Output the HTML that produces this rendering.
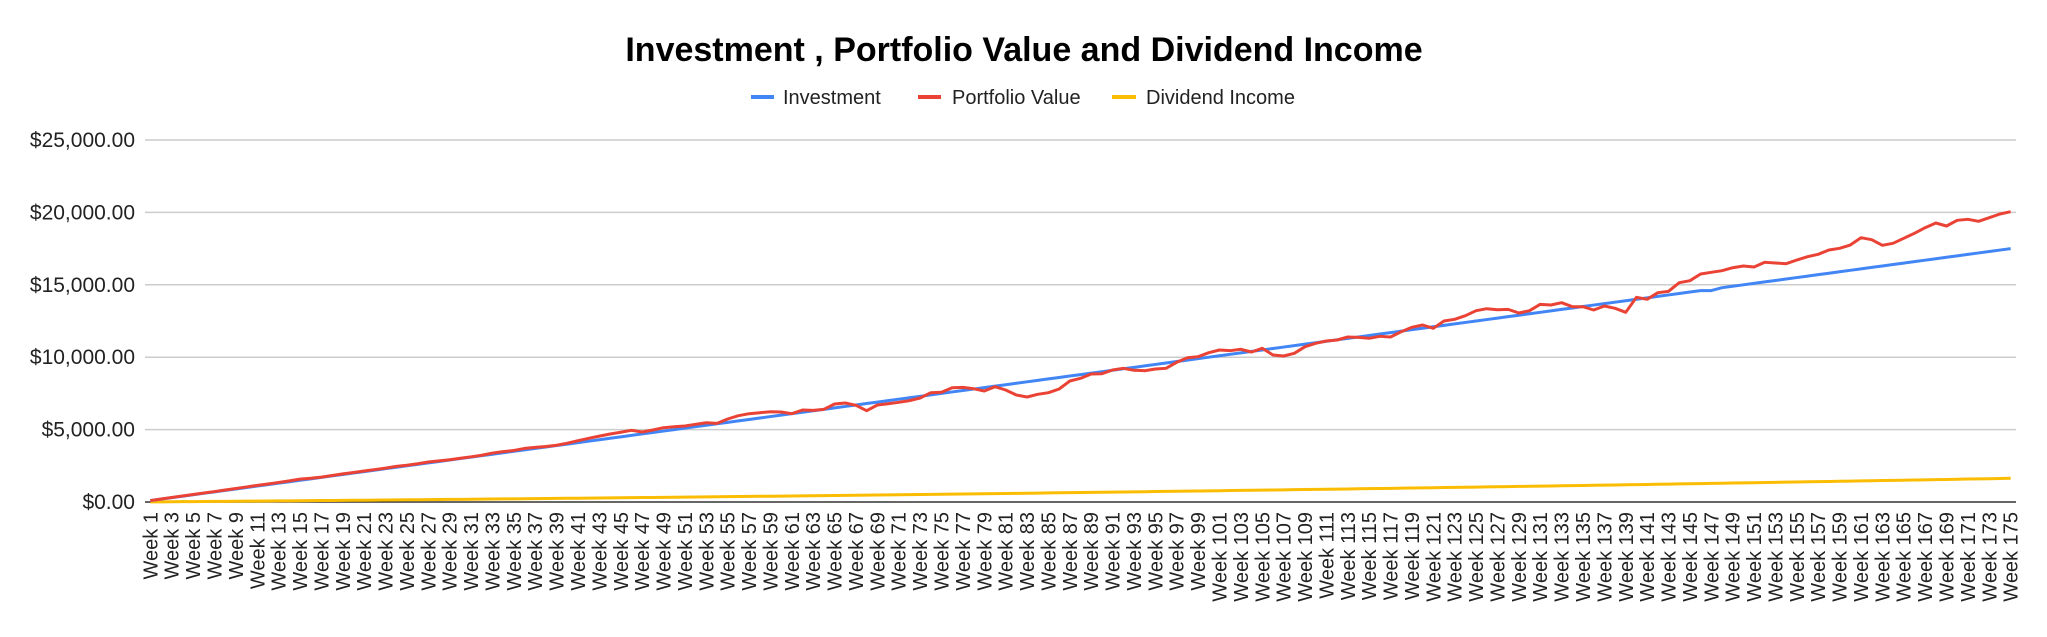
<!DOCTYPE html>
<html><head><meta charset="utf-8"><style>
html,body{margin:0;padding:0;background:#fff;}
svg{display:block;font-family:"Liberation Sans",Arial,sans-serif;}
</style></head><body>
<svg id="chart" width="2047" height="637" viewBox="0 0 2047 637" xmlns="http://www.w3.org/2000/svg">
<text x="1024" y="61" text-anchor="middle" font-size="34" font-weight="bold" fill="#000">Investment , Portfolio Value and Dividend Income</text>
<g>
 <g><line x1="751" y1="97" x2="774" y2="97" stroke="#4285F4" stroke-width="4"/><text x="783" y="104" font-size="20" fill="#222">Investment</text></g>
 <g><line x1="918" y1="97" x2="941" y2="97" stroke="#EA4335" stroke-width="4"/><text x="952" y="104" font-size="20" fill="#222">Portfolio Value</text></g>
 <g><line x1="1112" y1="97" x2="1136" y2="97" stroke="#FBBC04" stroke-width="4"/><text x="1146" y="104" font-size="20" fill="#222">Dividend Income</text></g>
</g>
<g id="grid"></g>
<g id="yticks"></g>
<g id="xticks"></g>
<g id="series"></g>
</svg>
<script>
const yTicks = [0, 5000, 10000, 15000, 20000, 25000];
const yTickLabels = ["$0.00", "$5,000.00", "$10,000.00", "$15,000.00", "$20,000.00", "$25,000.00"];
const investment = [];
for (let w = 1; w <= 175; w++) investment.push(w === 147 ? 14600 : w * 100);
const portfolio = [100,205,310,415,515,620,720,830,935,1040,1150,1245,1350,1460,1580,1640,1720,1830,1940,2035,
2140,2240,2340,2460,2540,2640,2760,2840,2920,3020,3120,3230,3380,3480,3560,3700,3770,3830,3920,4060,
4233,4399,4550,4696,4820,4950,4834,4972,5131,5200,5248,5364,5476,5433,5732,5960,6098,6167,6236,6213,
6098,6354,6330,6400,6768,6837,6678,6305,6699,6789,6885,7000,7182,7549,7575,7894,7917,7825,7666,7963,
7735,7389,7251,7438,7548,7804,8356,8540,8840,8861,9116,9233,9095,9067,9185,9233,9648,9965,10035,10311,
10497,10450,10546,10359,10615,10152,10083,10270,10725,10960,11119,11188,11395,11371,11305,11443,11395,11761,12065,12224,
11995,12500,12617,12866,13211,13349,13280,13303,13052,13211,13652,13606,13764,13488,13488,13260,13536,13375,13100,14136,
13998,14456,14548,15145,15283,15746,15863,15975,16180,16298,16229,16553,16505,16457,16712,16941,17106,17403,17520,17748,
18252,18114,17727,17865,18211,18556,18943,19268,19061,19454,19523,19385,19634,19889,20048];
const dividend = [6,11,17,22,28,34,40,45,51,57,63,69,75,81,87,94,100,106,112,119,
125,132,138,145,151,158,164,171,178,185,192,199,205,212,219,227,234,241,248,255,
262,270,277,285,292,300,307,315,322,330,338,345,353,361,369,377,385,393,401,409,
417,426,434,442,450,459,467,476,484,493,501,510,519,528,536,545,554,563,572,581,
590,599,608,617,627,636,645,654,664,673,683,692,702,711,721,731,740,750,760,770,
780,790,800,810,820,830,840,851,861,871,882,892,902,913,923,934,945,955,966,977,
988,999,1009,1020,1031,1042,1053,1064,1076,1087,1098,1109,1121,1132,1143,1155,1166,1178,1189,1201,
1213,1225,1236,1248,1260,1272,1284,1296,1308,1320,1332,1344,1357,1369,1381,1394,1406,1418,1431,1443,
1456,1468,1481,1494,1506,1519,1532,1545,1558,1571,1584,1597,1610,1623,1636];
const categories = [];
for (let w = 1; w <= 175; w++) categories.push("Week " + w);

const NS = "http://www.w3.org/2000/svg";
const L = 145, R = 2016, T = 140, B = 502, YMAX = 25000;
const band = (R - L) / categories.length;
function xPos(i) { return L + (i + 0.5) * band; }
function yPos(v) { return B - (v / YMAX) * (B - T); }
function mk(tag, attrs, parent) { const e = document.createElementNS(NS, tag); for (const k in attrs) e.setAttribute(k, attrs[k]); parent.appendChild(e); return e; }

const grid = document.getElementById('grid');
const yt = document.getElementById('yticks');
yTicks.forEach((v, i) => {
  const ln = mk('line', {x1: L, x2: R, y1: yPos(v), y2: yPos(v), stroke: v === 0 ? '#333' : '#ccc', 'stroke-width': 1.5}, grid);
  
  
  const t = mk('text', {x: 135, y: yPos(v) + 7, 'text-anchor': 'end', 'font-size': 21, fill: '#222'}, yt);
  t.textContent = yTickLabels[i];
  
  
});
const xt = document.getElementById('xticks');
categories.forEach((c, i) => {
  if (i % 2 !== 0) return;
  const x = xPos(i) + 7, y = 512;
  const t = mk('text', {x: x, y: y, transform: `rotate(-90 ${x} ${y})`, 'text-anchor': 'end', 'font-size': 20, fill: '#222'}, xt);
  t.textContent = c;
  
  
});
const ser = document.getElementById('series');
function drawLine(data, color, name) {
  const d = data.map((v, i) => (i ? 'L' : 'M') + xPos(i).toFixed(2) + ' ' + yPos(v).toFixed(2)).join(' ');
  const p = mk('path', {d: d, fill: 'none', stroke: color, 'stroke-width': 3, 'stroke-linejoin': 'round'}, ser);
  
  
}
drawLine(dividend, '#FBBC04', 'dividend-income-line');
drawLine(investment, '#4285F4', 'investment-line');
drawLine(portfolio, '#EA4335', 'portfolio-value-line');
</script>
</body></html>
